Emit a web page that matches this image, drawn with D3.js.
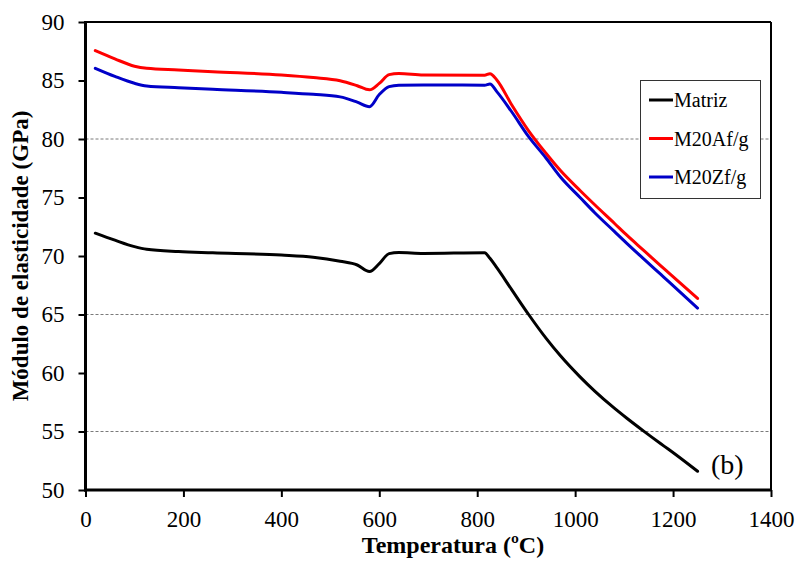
<!DOCTYPE html>
<html>
<head>
<meta charset="utf-8">
<script src="https://cdn.jsdelivr.net/npm/d3@7"></script>
<style>
  html, body { margin: 0; padding: 0; background: #fff; }
  svg { display: block; font-family: "Liberation Serif", "Times New Roman", serif; }
</style>
</head>
<body>
<svg id="chart" width="799" height="561"></svg>
<script>
// Temperatura (ºC) de cada leitura
const temperaturas = [20, 60, 100, 125, 190, 260, 400, 465, 520, 555, 580, 600, 620, 640, 690,
  815, 826, 840, 870, 905, 940, 970, 1010, 1040, 1080, 1105, 1140, 1175, 1190, 1250];

// Módulo de elasticidade (GPa) por material
const matriz = [71.95, 71.35, 70.8, 70.57, 70.38, 70.28, 70.08, 69.9, 69.55, 69.23, 68.68, 69.35, 70.2, 70.3, 70.22,
  70.28, 69.8, 69.0, 67.15, 65.0, 63.0, 61.47, 59.67, 58.45, 56.99, 56.15, 55.03, 53.95, 53.5, 51.6];
const m20Afg = [87.55, 86.85, 86.22, 86.04, 85.9, 85.75, 85.47, 85.25, 84.98, 84.55, 84.2, 84.75, 85.5, 85.6, 85.48,
  85.45, 85.58, 85.05, 82.95, 80.7, 78.8, 77.3, 75.6, 74.38, 72.8, 71.8, 70.48, 69.16, 68.6, 66.37];
const m20Zfg = [86.04, 85.35, 84.76, 84.53, 84.38, 84.25, 83.99, 83.82, 83.6, 83.15, 82.76, 83.8, 84.48, 84.6, 84.62,
  84.6, 84.7, 84.05, 82.35, 80.2, 78.4, 76.75, 75.0, 73.7, 72.1, 71.1, 69.75, 68.42, 67.85, 65.55];

const seriesNames = ["Matriz", "M20Af/g", "M20Zf/g"];
const seriesColors = ["#000000", "#ff0000", "#0000c8"];
const seriesValues = [matriz, m20Afg, m20Zfg];

const xTicks = [0, 200, 400, 600, 800, 1000, 1200, 1400];
const yTicks = [50, 55, 60, 65, 70, 75, 80, 85, 90];
const gridValues = [55, 65, 80];

const svg = d3.select("#chart");
const plotLeft = 85.5, plotRight = 771, plotTop = 22, plotBottom = 490;

const x = d3.scaleLinear().domain([0, 1400]).range([plotLeft, plotRight]);
const y = d3.scaleLinear().domain([50, 90]).range([plotBottom, plotTop]);

// dashed grid lines
svg.append("g")
  .selectAll("line")
  .data(gridValues)
  .join("line")
  .attr("x1", plotLeft).attr("x2", plotRight)
  .attr("y1", d => y(d)).attr("y2", d => y(d))
  .attr("stroke", "#7a7a7a")
  .attr("stroke-width", 1)
  .attr("stroke-dasharray", "3,2");

// data lines
const line = d3.line()
  .x((d, i) => x(temperaturas[i]))
  .y(d => y(d))
  .curve(d3.curveMonotoneX);

svg.append("g")
  .selectAll("path")
  .data(seriesValues)
  .join("path")
  .attr("d", d => line(d))
  .attr("fill", "none")
  .attr("stroke", (d, i) => seriesColors[i])
  .attr("stroke-width", 3)
  .attr("stroke-linejoin", "round")
  .attr("stroke-linecap", "round");

// frame: thin top/right, thick left/bottom
svg.append("line").attr("x1", plotLeft).attr("x2", plotRight).attr("y1", plotTop).attr("y2", plotTop)
  .attr("stroke", "#000").attr("stroke-width", 2);
svg.append("line").attr("x1", plotRight).attr("x2", plotRight).attr("y1", plotTop).attr("y2", plotBottom)
  .attr("stroke", "#000").attr("stroke-width", 2);

const xAxis = d3.axisBottom(x).tickValues(xTicks).tickFormat(d3.format("d"))
  .tickSize(7).tickSizeOuter(0).tickPadding(14);
const yAxis = d3.axisLeft(y).tickValues(yTicks).tickFormat(d3.format("d"))
  .tickSize(7).tickSizeOuter(0).tickPadding(14);

const gx = svg.append("g").attr("transform", `translate(0,${plotBottom})`).call(xAxis);
const gy = svg.append("g").attr("transform", `translate(${plotLeft},0)`).call(yAxis);

[gx, gy].forEach(g => {
  g.select(".domain").attr("stroke", "#000").attr("stroke-width", 3);
  g.selectAll(".tick line").attr("stroke", "#000").attr("stroke-width", 2);
  g.selectAll(".tick text")
    .attr("fill", "#000")
    .style("font-family", "'Liberation Serif', 'Times New Roman', serif")
    .style("font-size", "23px");
});
gx.select(".domain").attr("d", `M${plotLeft - 1.5},0H${plotRight + 1}`);
gy.select(".domain").attr("d", `M0,${plotTop - 1}V${plotBottom + 1.5}`);

// axis titles
svg.append("text")
  .attr("x", 453)
  .attr("y", 553)
  .attr("text-anchor", "middle")
  .style("font-size", "24px")
  .style("font-weight", "bold")
  .text("Temperatura (ºC)");

svg.append("text")
  .attr("transform", `translate(28,${(plotTop + plotBottom) / 2}) rotate(-90)`)
  .attr("text-anchor", "middle")
  .style("font-size", "23px")
  .style("font-weight", "bold")
  .text("Módulo de elasticidade (GPa)");

// panel tag
svg.append("text")
  .attr("x", 711)
  .attr("y", 474)
  .style("font-size", "28px")
  .text("(b)");

// legend
const legend = svg.append("g");
legend.append("rect")
  .attr("x", 640.5).attr("y", 80.5)
  .attr("width", 120).attr("height", 118)
  .attr("fill", "#fff")
  .attr("stroke", "#333")
  .attr("stroke-width", 1);

const rowY = [100, 138.5, 177];
const items = legend.selectAll("g.item")
  .data(seriesNames)
  .join("g")
  .attr("class", "item")
  .attr("transform", (d, i) => `translate(0,${rowY[i]})`);
items.append("line")
  .attr("x1", 649).attr("x2", 673)
  .attr("stroke", (d, i) => seriesColors[i])
  .attr("stroke-width", 3);
items.append("text")
  .attr("x", 674)
  .attr("y", 7)
  .style("font-size", "20px")
  .text(d => d);
</script>
</body>
</html>
